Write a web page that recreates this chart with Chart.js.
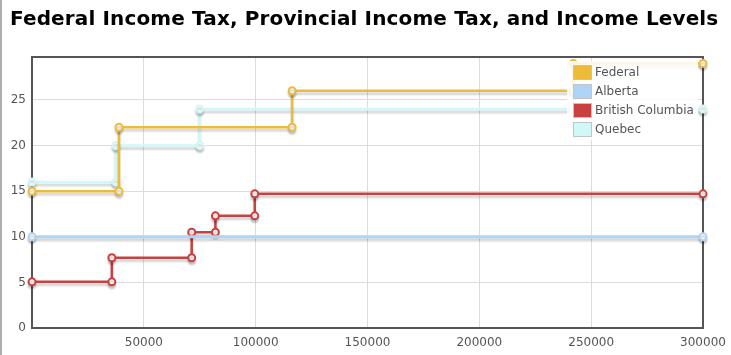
<!DOCTYPE html>
<html>
<head>
<meta charset="utf-8">
<title>Federal Income Tax, Provincial Income Tax, and Income Levels</title>
<script src="https://cdn.jsdelivr.net/npm/chart.js@4"></script>
<style>
  html, body { margin: 0; padding: 0; background: #fff; }
  #wrap { position: relative; width: 731px; height: 355px; overflow: hidden; }
  #edge { position: absolute; left: 0; top: 0; width: 2px; height: 355px; background: #b0aca8; }
  #title {
    position: absolute; left: 10px; top: 6px; margin: 0;
    font-family: "DejaVu Sans", sans-serif; letter-spacing: 0.13px;
    font-size: 20px; font-weight: bold; color: #000; white-space: nowrap;
  }
  #chart { position: absolute; left: 0; top: 0; }
</style>
</head>
<body>
<div id="wrap">
  <canvas id="chart" width="731" height="355"></canvas>
  <div id="edge"></div>
  <h1 id="title">Federal Income Tax, Provincial Income Tax, and Income Levels</h1>
</div>
<script>
const federalIncome = [0, 38900, 38900, 116300, 116300, 242000, 242000, 300000];
const federalRate = [15, 15, 22, 22, 26, 26, 29, 29];

const albertaIncome = [0, 300000];
const albertaRate = [10, 10];

const bcIncome = [0, 35700, 35700, 71400, 71400, 82000, 82000, 99600, 99600, 300000];
const bcRate = [5.06, 5.06, 7.7, 7.7, 10.5, 10.5, 12.29, 12.29, 14.7, 14.7];

const quebecIncome = [0, 37500, 37500, 75000, 75000, 300000];
const quebecRate = [16, 16, 20, 20, 24, 24];

const seriesNames = ["Federal", "Alberta", "British Columbia", "Quebec"];
const seriesColors = ["#ecbb3a", "#aed5f6", "#c9413f", "#cff8f8"];

const xTickValues = [50000, 100000, 150000, 200000, 250000, 300000];
const yTickValues = [0, 5, 10, 15, 20, 25];

function toPoints(xs, ys) {
  return xs.map((x, i) => ({ x, y: ys[i] }));
}

function makeDataset(index, xs, ys) {
  return {
    label: seriesNames[index],
    data: toPoints(xs, ys),
    borderColor: seriesColors[index],
    backgroundColor: seriesColors[index],
    borderWidth: index === 1 ? 3 : 2.5,
    pointRadius: 3.5,
    pointBorderWidth: 2,
    pointBackgroundColor: "#ffffff",
    pointBorderColor: seriesColors[index],
    tension: 0,
  };
}

// soft grey drop shadow under every series
const shadowPlugin = {
  id: "lineShadow",
  beforeDatasetDraw(chart) {
    const ctx = chart.ctx;
    ctx.save();
    ctx.shadowColor = "rgba(0, 0, 0, 0.18)";
    ctx.shadowOffsetX = 0;
    ctx.shadowOffsetY = 3;
    ctx.shadowBlur = 2;
  },
  afterDatasetDraw(chart) {
    chart.ctx.restore();
  },
};

// dark frame round the plot area
const framePlugin = {
  id: "plotFrame",
  beforeDatasetsDraw(chart) {
    const { ctx, chartArea } = chart;
    ctx.save();
    ctx.strokeStyle = "#555555";
    ctx.lineWidth = 2;
    ctx.strokeRect(chartArea.left, chartArea.top, chartArea.right - chartArea.left, chartArea.bottom - chartArea.top);
    ctx.restore();
  },
};

// legend box inside the plot, top right
const insideLegendPlugin = {
  id: "insideLegend",
  afterDraw(chart) {
    const ctx = chart.ctx;
    const left = 567;
    const top = 61;
    const rowHeight = 19;
    ctx.save();
    ctx.fillStyle = "rgba(255, 255, 255, 0.85)";
    ctx.fillRect(left, top, 131, rowHeight * seriesNames.length + 3);
    ctx.font = "12px 'DejaVu Sans', sans-serif";
    ctx.textBaseline = "middle";
    seriesNames.forEach((name, i) => {
      const cy = top + 11 + i * rowHeight;
      ctx.fillStyle = seriesColors[i];
      ctx.fillRect(574, cy - 6, 17, 13);
      ctx.strokeStyle = "#c4c4c4";
      ctx.lineWidth = 1;
      ctx.strokeRect(573.5, cy - 6.5, 18, 14);
      ctx.fillStyle = "#555555";
      ctx.fillText(name, 595, cy + 1);
    });
    ctx.restore();
  },
};

new Chart(document.getElementById("chart"), {
  type: "line",
  data: {
    datasets: [
      makeDataset(0, federalIncome, federalRate),
      makeDataset(1, albertaIncome, albertaRate),
      makeDataset(2, bcIncome, bcRate),
      makeDataset(3, quebecIncome, quebecRate),
    ],
  },
  options: {
    responsive: false,
    animation: false,
    clip: false,
    layout: { padding: { left: 0, top: 57, right: 28, bottom: 0 } },
    plugins: {
      legend: { display: false },
      title: { display: false },
      tooltip: { enabled: false },
    },
    scales: {
      x: {
        type: "linear",
        min: 0,
        max: 300000,
        afterBuildTicks: (scale) => {
          scale.ticks = xTickValues.map((value) => ({ value }));
        },
        afterFit: (scale) => {
          scale.height = 27;
          scale.paddingLeft = 0;
          scale.paddingRight = 0;
        },
        border: { display: false },
        grid: { color: "#dcdcdc", lineWidth: 1, drawTicks: false },
        ticks: {
          padding: 8,
          color: "#555555",
          font: { family: "'DejaVu Sans', sans-serif", size: 12 },
          callback: (value) => String(value),
        },
      },
      y: {
        type: "linear",
        min: 0,
        max: 29.7,
        afterBuildTicks: (scale) => {
          scale.ticks = yTickValues.map((value) => ({ value }));
        },
        afterFit: (scale) => {
          scale.width = 32;
          scale.paddingTop = 0;
          scale.paddingBottom = 0;
        },
        border: { display: false },
        grid: { color: "#dcdcdc", lineWidth: 1, drawTicks: false },
        ticks: {
          padding: 6,
          color: "#555555",
          font: { family: "'DejaVu Sans', sans-serif", size: 12 },
        },
      },
    },
  },
  plugins: [framePlugin, shadowPlugin, insideLegendPlugin],
});
</script>
</body>
</html>
